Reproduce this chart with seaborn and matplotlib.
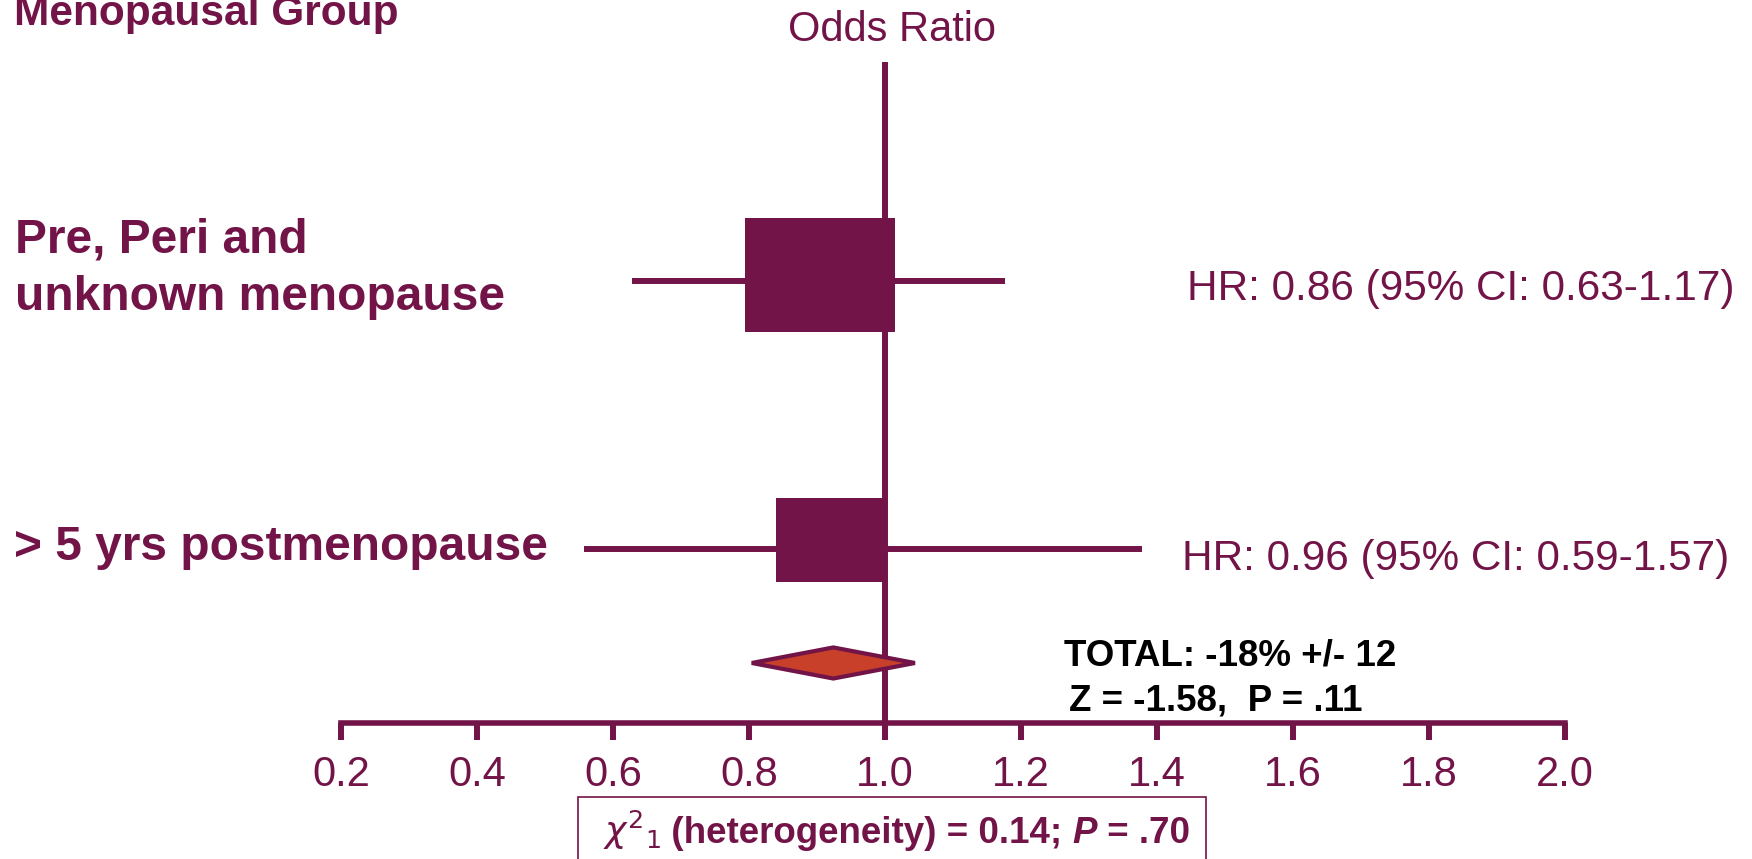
import numpy as np
import pandas as pd
import matplotlib.pyplot as plt
import seaborn as sns
from matplotlib.patches import Rectangle

# -------------------------
# data
# -------------------------
groups = ["Pre, Peri and\nunknown menopause", "> 5 yrs postmenopause"]
hr_labels = ["HR: 0.86 (95% CI: 0.63-1.17)", "HR: 0.96 (95% CI: 0.59-1.57)"]
box_est = [0.904, 0.921]     # centre of the squares
box_w = [0.221, 0.163]       # square widths in odds-ratio units
ci_lo = [0.628, 0.557]
ci_hi = [1.176, 1.378]
total_lo, total_est, total_hi = 0.804, 0.924, 1.044
xticks = [0.2, 0.4, 0.6, 0.8, 1.0, 1.2, 1.4, 1.6, 1.8, 2.0]
xtick_labels = ["0.2", "0.4", "0.6", "0.8", "1.0", "1.2", "1.4", "1.6", "1.8", "2.0"]

df = pd.DataFrame({"group": groups, "hr": hr_labels, "est": box_est,
                   "w": box_w, "lo": ci_lo, "hi": ci_hi})

MAROON = "#721447"
ORANGE = "#C8402A"

sns.set_theme(style="white")
plt.rcParams["font.family"] = ["Liberation Sans", "DejaVu Sans"]

W, H = 1752, 859
fig = plt.figure(figsize=(W / 100, H / 100), dpi=100)


def fx(px):
    return px / W


def fy(py):
    return 1 - py / H


# axes: x from 0.2 to 2.0, bottom spine is the scale line
ax = fig.add_axes([fx(341), fy(723), fx(1565) - fx(341), fy(62) - fy(723)])
rows = np.array([2.0, 1.0])
ax.set_xlim(0.2, 2.0)
ax.set_ylim(0.3507, 2.817)

# null line
ax.axvline(1.0, color=MAROON, lw=4.3, zorder=1)

# confidence intervals and squares
ax.hlines(rows, df["lo"], df["hi"], color=MAROON, lw=4.3, zorder=2)
box_h = [0.425, 0.313]
box_dy = [0.022, 0.034]
ax.barh(rows + np.array(box_dy), df["w"], left=df["est"] - df["w"] / 2,
        height=box_h, color=MAROON, edgecolor="none", zorder=3)

# pooled diamond
yd, hd = 0.5746, 0.058
ax.fill([total_lo, total_est, total_hi, total_est], [yd, yd + hd, yd, yd - hd],
        facecolor=ORANGE, edgecolor=MAROON, lw=3, zorder=4)

ax.set_xticks(xticks)
ax.set_xticklabels(xtick_labels)
ax.set_yticks([])
ax.tick_params(axis="x", direction="out", length=12, width=4.3, color=MAROON,
               pad=11, labelsize=30, labelcolor=MAROON, bottom=True)
sns.despine(ax=ax, left=True, top=True, right=True)
ax.spines["bottom"].set_color(MAROON)
ax.spines["bottom"].set_linewidth(4)
ax.patch.set_alpha(0)

# -------------------------
# text
# -------------------------
fig.text(fx(14), fy(25), "Menopausal Group", fontsize=30.5, fontweight="bold",
         color=MAROON, va="baseline")
fig.text(fx(892), fy(41), "Odds Ratio", fontsize=30, color=MAROON,
         ha="center", va="baseline")

label_x = [15, 14]
label_base = [[253, 310], [560]]
for g, x0, bases in zip(groups, label_x, label_base):
    for line, b in zip(g.split("\n"), bases):
        fig.text(fx(x0), fy(b), line, fontsize=34.5, fontweight="bold",
                 color=MAROON, va="baseline")

hr_x = [1187, 1182]
hr_base = [300, 570]
for t, x0, b in zip(hr_labels, hr_x, hr_base):
    fig.text(fx(x0), fy(b), t, fontsize=30.4, color=MAROON, va="baseline")

fig.text(fx(1064), fy(665), "TOTAL: -18% +/- 12", fontsize=26.5,
         fontweight="bold", color="black", va="baseline")
fig.text(fx(1069), fy(711), "Z = -1.58,  P = .11", fontsize=26.5,
         fontweight="bold", color="black", va="baseline")

# heterogeneity box
fig.patches.append(Rectangle((fx(578), fy(880)), fx(1206) - fx(578), fy(797) - fy(880),
                             transform=fig.transFigure, facecolor="none",
                             edgecolor=MAROON, lw=1.2, clip_on=False))
yb = fy(843)
prev = fig.text(fx(603), yb, r"$\chi^{2}{}_{1}$", fontsize=26, color=MAROON,
                va="baseline")
pieces = [(" (heterogeneity) = 0.14; ", "normal"), ("P", "italic"), (" = .70", "normal")]
for s, st in pieces:
    # each piece starts where the previous one ends
    prev = ax.annotate(s, xy=(1.0, yb), xycoords=(prev, "figure fraction"),
                       fontsize=26.5, fontweight="bold", fontstyle=st, color=MAROON,
                       ha="left", va="baseline", annotation_clip=False)

fig.savefig("out.png", dpi=100)
